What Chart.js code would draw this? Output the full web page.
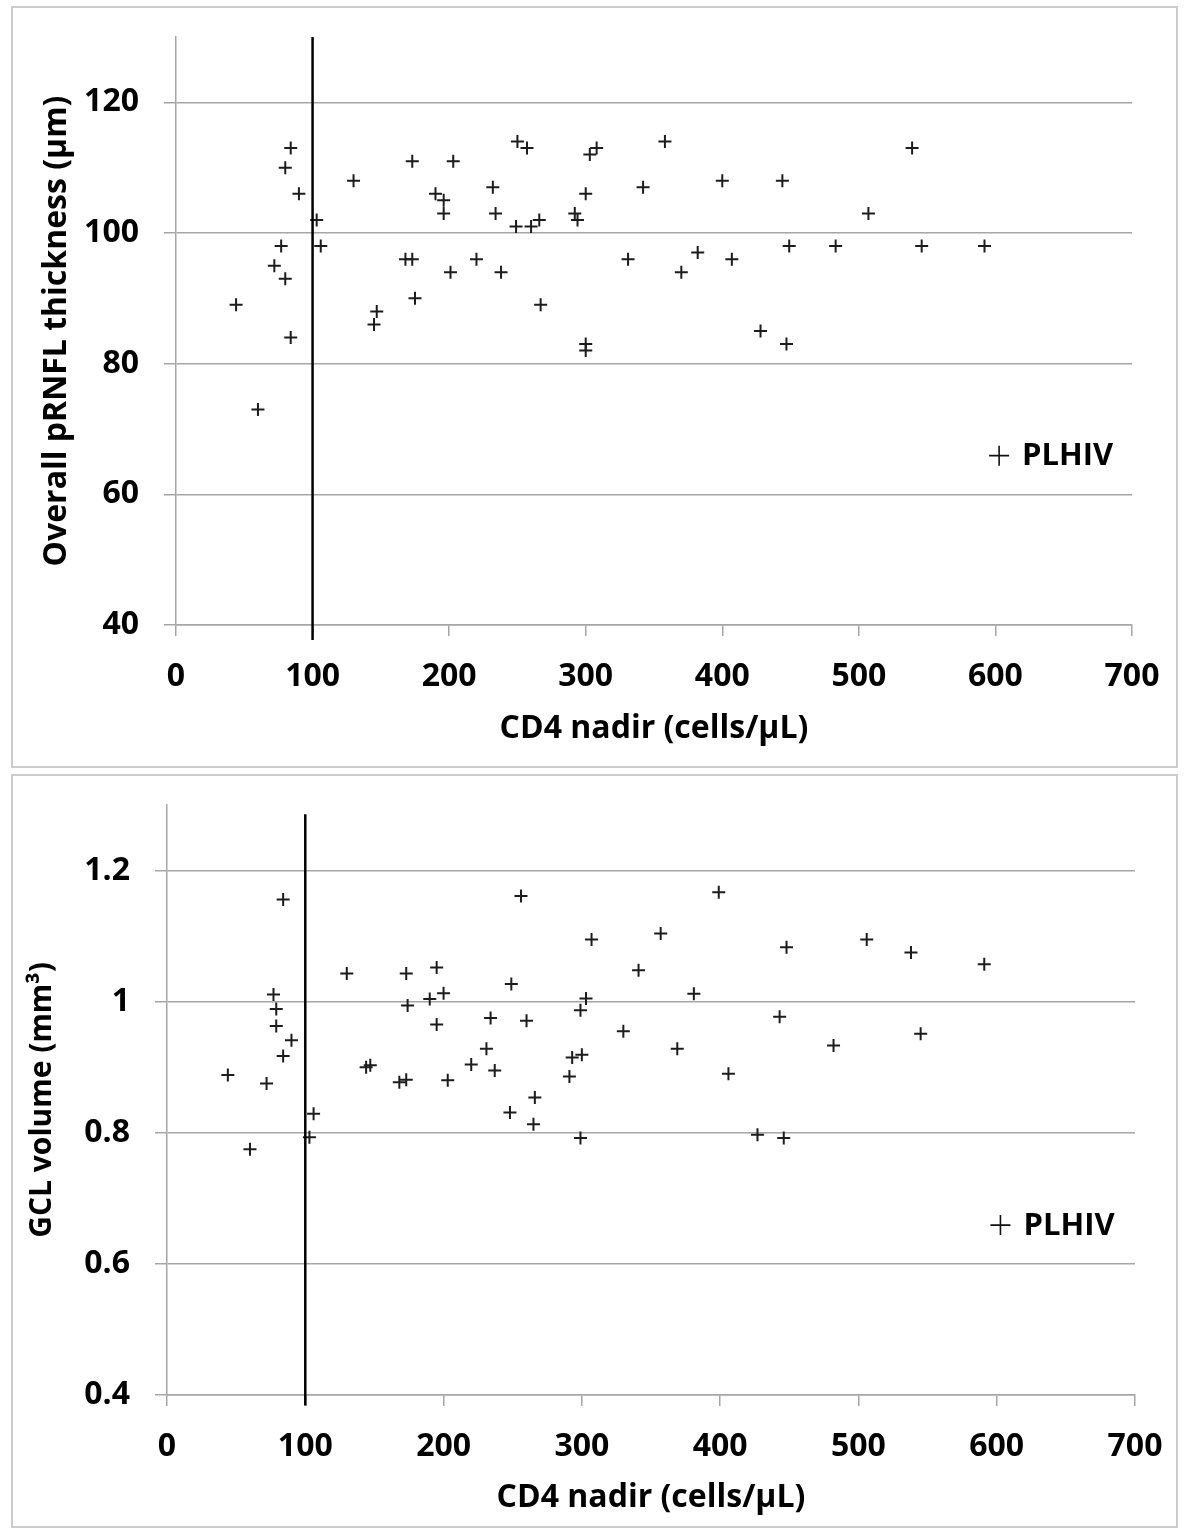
<!DOCTYPE html>
<html>
<head>
<meta charset="utf-8">
<title>CD4 nadir vs pRNFL / GCL</title>
<script src="https://cdn.jsdelivr.net/npm/chart.js@4.4.1/dist/chart.umd.min.js"></script>
<style>
    body { margin: 0; background: #fff; width: 1186px; height: 1530px; position: relative; }
    .painel { position: absolute; left: 11px; width: 1163px; border: 2px solid #cbcbcb; background: #fff; }
    #painelTopo { top: 6px; height: 758px; }
    #painelBaixo { top: 774px; height: 750px; }
    canvas { display: block; }
</style>
</head>
<body>
<div class="painel" id="painelTopo"><canvas id="graficoRnfl" width="1163" height="758"></canvas></div>
<div class="painel" id="painelBaixo"><canvas id="graficoGcl" width="1163" height="750"></canvas></div>

<script>
// Dados - painel de cima (pRNFL)
const cd4Rnfl = [44, 60, 72, 77, 80, 80, 84, 84, 90, 103, 106, 130, 145, 147, 168, 173, 173, 175, 190, 196,
    196, 201, 203, 220, 232, 234, 238, 249, 250, 257, 260, 266, 267, 292, 294, 300, 300, 300, 303, 308,
    331, 342, 358, 370, 382, 400, 407, 428, 444, 447, 449, 483, 507, 539, 546, 592];
const rnfl = [89, 73, 95, 98, 110, 93, 113, 84, 106, 102, 98, 108, 86, 88, 96, 96, 111, 90, 106, 105,
    103, 94, 111, 96, 107, 103, 94, 101, 114, 113, 101, 102, 89, 103, 102, 106, 83, 82, 112, 113,
    96, 107, 114, 94, 97, 108, 96, 85, 108, 83, 98, 98, 103, 113, 98, 98];

// Painel de baixo (GCL)
const cd4Gcl = [84, 130, 173, 195, 200, 190, 174, 195, 77, 79, 79, 90, 84, 44, 72, 106, 103, 60, 144, 147,
    168, 173, 203, 220, 231, 256, 399, 307, 357, 448, 341, 249, 381, 303, 299, 234, 260, 443, 330, 369,
    293, 300, 237, 291, 406, 266, 248, 265, 299, 427, 446, 506, 538, 591, 482, 545];
const gcl = [1.156, 1.043, 1.043, 1.052, 1.013, 1.004, 0.994, 0.965, 1.011, 0.989, 0.963, 0.941, 0.917, 0.888, 0.875, 0.829, 0.793, 0.775, 0.900, 0.903,
    0.877, 0.881, 0.880, 0.904, 0.928, 1.161, 1.167, 1.095, 1.104, 1.083, 1.048, 1.027, 1.012, 1.005, 0.987, 0.975, 0.971, 0.977, 0.955, 0.928,
    0.915, 0.919, 0.895, 0.886, 0.890, 0.854, 0.831, 0.813, 0.792, 0.797, 0.792, 1.095, 1.075, 1.057, 0.933, 0.951];

const xTicks = [0, 100, 200, 300, 400, 500, 600, 700];
const yTicksRnfl = [40, 60, 80, 100, 120];
const yTicksGcl = [0.4, 0.6, 0.8, 1, 1.2];

// Linha de corte CD4 = 100 (valores de inicio e fim no eixo y)
const corteCd4 = 100;
const corteRnfl = [130, 37.7];
const corteGcl = [1.286, 0.384];

const serieNome = 'PLHIV';
const FONTE = '"Open Sans", Lato, sans-serif';

// Linha vertical de corte
const linhaCorte = {
    id: 'linhaCorte',
    afterDatasetsDraw(chart, args, opts) {
        const x = chart.scales.x.getPixelForValue(opts.valor);
        const y1 = chart.scales.y.getPixelForValue(opts.faixa[0]);
        const y2 = chart.scales.y.getPixelForValue(opts.faixa[1]);
        const ctx = chart.ctx;
        ctx.save();
        ctx.strokeStyle = '#000';
        ctx.lineWidth = 2.5;
        ctx.beginPath();
        ctx.moveTo(x, y1);
        ctx.lineTo(x, y2);
        ctx.stroke();
        ctx.restore();
    }
};

// Legenda desenhada dentro da área do gráfico
const legendaInterna = {
    id: 'legendaInterna',
    afterDraw(chart) {
        const area = chart.chartArea;
        const ctx = chart.ctx;
        const cx = area.left + area.width * 0.861;
        const cy = area.top + area.height * 0.712;
        ctx.save();
        ctx.strokeStyle = '#111';
        ctx.lineWidth = 1.6;
        ctx.beginPath();
        ctx.moveTo(cx - 10, cy);
        ctx.lineTo(cx + 10, cy);
        ctx.moveTo(cx, cy - 10);
        ctx.lineTo(cx, cy + 10);
        ctx.stroke();
        ctx.fillStyle = '#000';
        ctx.font = 'bold 31px ' + FONTE;
        ctx.textAlign = 'left';
        ctx.textBaseline = 'middle';
        ctx.fillText(chart.data.datasets[0].label, cx + 23, cy + 1);
        ctx.restore();
    }
};

function criarGrafico(canvasId, xs, ys, cfg) {
    const pontos = xs.map((v, i) => ({ x: v, y: ys[i] }));
    const ctx = document.getElementById(canvasId).getContext('2d');
    return new Chart(ctx, {
        type: 'scatter',
        data: {
            datasets: [{
                label: serieNome,
                data: pontos,
                pointStyle: 'cross',
                pointRadius: 6.5,
                pointBorderWidth: 2,
                borderColor: '#1c1c1c',
                backgroundColor: '#1c1c1c'
            }]
        },
        options: {
            responsive: false,
            animation: false,
            layout: { padding: { left: 0, top: 29, right: cfg.padDireita, bottom: 0 } },
            plugins: {
                legend: { display: false },
                tooltip: { enabled: false },
                linhaCorte: { valor: corteCd4, faixa: cfg.corte }
            },
            scales: {
                x: {
                    type: 'linear',
                    min: 0,
                    max: 700,
                    afterBuildTicks: scale => { scale.ticks = xTicks.map(v => ({ value: v })); },
                    afterFit: scale => {
                        scale.height = cfg.alturaX;
                        scale.paddingLeft = 0;
                        scale.paddingRight = 0;
                    },
                    grid: { drawOnChartArea: false, drawTicks: true, tickLength: 11, color: '#a6a6a6', lineWidth: 1.5 },
                    border: { display: true, color: '#a6a6a6', width: 1.5 },
                    ticks: { color: '#000', padding: 22, font: { family: FONTE, size: 32, weight: 'bold' } },
                    title: {
                        display: true,
                        text: 'CD4 nadir (cells/µL)',
                        color: '#000',
                        font: { family: FONTE, size: 32, weight: 'bold' },
                        padding: { top: 0, bottom: cfg.padTituloX }
                    }
                },
                y: {
                    type: 'linear',
                    min: cfg.yMin,
                    max: cfg.yMax,
                    afterBuildTicks: scale => { scale.ticks = cfg.yTicks.map(v => ({ value: v })); },
                    afterFit: scale => {
                        scale.width = cfg.larguraY;
                        scale.paddingTop = 0;
                        scale.paddingBottom = 0;
                    },
                    grid: { drawOnChartArea: true, drawTicks: true, tickLength: 12, color: '#a6a6a6', lineWidth: 1.5 },
                    border: { display: true, color: '#a6a6a6', width: 1.5 },
                    ticks: {
                        color: '#000',
                        padding: 25,
                        font: { family: FONTE, size: 32, weight: 'bold' },
                        callback: v => String(Math.round(v * 10) / 10)
                    },
                    title: {
                        display: true,
                        text: cfg.tituloY,
                        color: '#000',
                        font: { family: FONTE, size: cfg.fonteTituloY, weight: 'bold' },
                        padding: { top: cfg.padTituloY, bottom: 0 }
                    }
                }
            }
        },
        plugins: [linhaCorte, legendaInterna]
    });
}

document.addEventListener('DOMContentLoaded', () => {
    criarGrafico('graficoRnfl', cd4Rnfl, rnfl, {
        yMin: 40, yMax: 130, yTicks: yTicksRnfl,
        tituloY: 'Overall pRNFL thickness (µm)', fonteTituloY: 32,
        larguraY: 163, alturaX: 141, padDireita: 44,
        padTituloX: 18, padTituloY: 25,
        corte: corteRnfl
    });
    criarGrafico('graficoGcl', cd4Gcl, gcl, {
        yMin: 0.4, yMax: 1.3, yTicks: yTicksGcl,
        tituloY: 'GCL volume (mm³)', fonteTituloY: 30,
        larguraY: 154, alturaX: 131, padDireita: 41,
        padTituloX: 9, padTituloY: 11,
        corte: corteGcl
    });
});
</script>
</body>
</html>
